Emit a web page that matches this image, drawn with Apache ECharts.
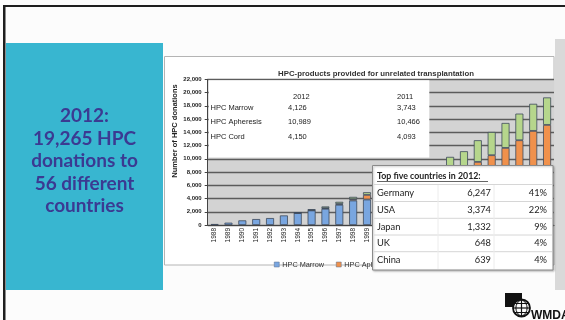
<!DOCTYPE html>
<html>
<head>
<meta charset="utf-8">
<script src="https://cdn.jsdelivr.net/npm/echarts@6/dist/echarts.min.js"></script>
<style>
  html, body { margin: 0; padding: 0; background: #fcfcfc; }
  #chart { width: 565px; height: 320px; }
</style>
</head>
<body>
<div id="chart"></div>
<script>
// Years shown on the category axis
const years = ['1988','1989','1990','1991','1992','1993','1994','1995','1996','1997','1998','1999',
               '2000','2001','2002','2003','2004','2005','2006','2007','2008','2009','2010','2011','2012'];

// HPC products per year, by source
const marrow    = [150, 350, 700, 900, 1050, 1450, 1800, 2200, 2450, 3050, 3700, 3850,
                   3950, 3900, 3850, 3800, 3750, 3800, 3900, 4000, 4100, 4200, 4250, 3743, 4126];
const apheresis = [null, null, null, null, null, null, 40, 60, 100, 150, 200, 700,
                   1200, 1850, 2450, 3050, 3580, 4290, 4540, 5530, 6440, 7440, 8550, 10466, 10989];
const cord      = [null, null, null, null, null, null, 60, 90, 250, 300, 350, 400,
                   600, 800, 1050, 1350, 1700, 2200, 2700, 3270, 3510, 3770, 4020, 4093, 4150];

const seriesNames = ['HPC Marrow', 'HPC Apheresis', 'HPC Cord'];

// Value axis
const yMin = 0, yMax = 22000, yStep = 2000;

// Top five recipient countries, 2012
const countries = ['Germany', 'USA', 'Japan', 'UK', 'China'];
const countryDonations = [6247, 3374, 1332, 648, 639];
const countryShare = [41, 22, 9, 4, 4];

const fmt = v => v.toLocaleString('en-US');
const last = years.length - 1;

const chart = echarts.init(document.getElementById('chart'), null, { renderer: 'canvas' });

const g = [];
// slide frame
g.push({ type: 'rect', z: 0, shape: { x: 3, y: 5, width: 562, height: 2 }, style: { fill: '#1e1e1e' } });
g.push({ type: 'rect', z: 0, shape: { x: 3, y: 5, width: 2.5, height: 315 }, style: { fill: '#1e1e1e' } });
g.push({ type: 'rect', z: 0, shape: { x: 555, y: 39, width: 10, height: 251 }, style: { fill: '#d9d9d9' } });
// headline panel
g.push({ type: 'rect', z: 0, shape: { x: 6, y: 43, width: 157, height: 247 }, style: { fill: '#38b6d0' } });
g.push({ type: 'text', z: 10, style: {
  text: years[last] + ':\n' + fmt(19265) + ' HPC\ndonations to\n56 different\ncountries',
  x: 84.5, y: 161, textAlign: 'center', textVerticalAlign: 'middle',
  font: 'bold 19px Lato', lineHeight: 22.4, fill: '#3b3a92' } });
// chart frame
g.push({ type: 'rect', z: 0, shape: { x: 164.5, y: 56.5, width: 389.5, height: 208.5 },
  style: { fill: '#ffffff', stroke: '#b4b4b4', lineWidth: 1 } });
// axis title
g.push({ type: 'text', z: 10, x: 174.5, y: 131, rotation: Math.PI / 2, style: {
  text: 'Number of HPC donations', x: 0, y: 0, textAlign: 'center', textVerticalAlign: 'middle',
  font: 'bold 7.5px "Liberation Sans"', fill: '#222' } });

// summary panel inside the plot
g.push({ type: 'rect', z: 3, shape: { x: 208.7, y: 80.3, width: 220.6, height: 77.3 }, style: { fill: '#ffffff' } });
const insetFont = '7.5px "Liberation Sans"';
g.push({ type: 'text', z: 11, style: { text: years[last], x: 293, y: 96.7, textVerticalAlign: 'middle', font: insetFont, fill: '#222' } });
g.push({ type: 'text', z: 11, style: { text: years[last - 1], x: 397, y: 96.7, textVerticalAlign: 'middle', font: insetFont, fill: '#222' } });
const rowSeries = [marrow, apheresis, cord];
const rowY = [107.5, 122.3, 136.7];
seriesNames.forEach((n, i) => {
  g.push({ type: 'text', z: 11, style: { text: n, x: 210.5, y: rowY[i], textVerticalAlign: 'middle', font: insetFont, fill: '#222' } });
  g.push({ type: 'text', z: 11, style: { text: fmt(rowSeries[i][last]), x: 288, y: rowY[i], textVerticalAlign: 'middle', font: insetFont, fill: '#222' } });
  g.push({ type: 'text', z: 11, style: { text: fmt(rowSeries[i][last - 1]), x: 397, y: rowY[i], textVerticalAlign: 'middle', font: insetFont, fill: '#222' } });
});

// top five countries table
g.push({ type: 'rect', z: 10, shape: { x: 372.5, y: 165.5, width: 180.5, height: 104.5 },
  style: { fill: '#ffffff', stroke: '#8a8a8a', lineWidth: 1, shadowBlur: 2, shadowColor: 'rgba(0,0,0,0.25)', shadowOffsetX: 1, shadowOffsetY: 1 } });
const tFont = '9.3px Lato';
g.push({ type: 'text', z: 11, style: { text: 'Top five countries in ' + years[last] + ':', x: 377, y: 176,
  textVerticalAlign: 'middle', font: 'bold 8.8px Lato', fill: '#222' } });
g.push({ type: 'line', z: 11, shape: { x1: 377, y1: 181.5, x2: 488, y2: 181.5 }, style: { stroke: '#222', lineWidth: 0.7 } });
const sepY = [184.5, 201.5, 218.3, 235, 251.7];
sepY.forEach(y => g.push({ type: 'line', z: 11, shape: { x1: 374, y1: y, x2: 552, y2: y }, style: { stroke: '#d6d6d6', lineWidth: 1 } }));
g.push({ type: 'line', z: 11, shape: { x1: 438, y1: 185, x2: 438, y2: 269 }, style: { stroke: '#ececec', lineWidth: 1 } });
g.push({ type: 'line', z: 11, shape: { x1: 494, y1: 185, x2: 494, y2: 269 }, style: { stroke: '#ececec', lineWidth: 1 } });
const cRowY = [193.3, 210.3, 226.9, 243.2, 259.6];
countries.forEach((c, i) => {
  g.push({ type: 'text', z: 12, style: { text: c, x: 377, y: cRowY[i], textVerticalAlign: 'middle', font: tFont, fill: '#222' } });
  g.push({ type: 'text', z: 12, style: { text: fmt(countryDonations[i]), x: 491, y: cRowY[i], textAlign: 'right', textVerticalAlign: 'middle', font: tFont, fill: '#222' } });
  g.push({ type: 'text', z: 12, style: { text: countryShare[i] + '%', x: 547, y: cRowY[i], textAlign: 'right', textVerticalAlign: 'middle', font: tFont, fill: '#222' } });
});

// logo mark, bottom right
g.push({ type: 'rect', z: 10, shape: { x: 505, y: 293, width: 17, height: 14 }, style: { fill: '#111' } });
g.push({ type: 'circle', z: 11, shape: { cx: 521.5, cy: 308, r: 8.5 }, style: { fill: '#fcfcfc', stroke: '#111', lineWidth: 1.8 } });
g.push({ type: 'line', z: 12, shape: { x1: 513, y1: 308, x2: 530, y2: 308 }, style: { stroke: '#111', lineWidth: 1.2 } });
g.push({ type: 'line', z: 12, shape: { x1: 514.5, y1: 303.5, x2: 528.5, y2: 303.5 }, style: { stroke: '#111', lineWidth: 1 } });
g.push({ type: 'line', z: 12, shape: { x1: 514.5, y1: 312.5, x2: 528.5, y2: 312.5 }, style: { stroke: '#111', lineWidth: 1 } });
g.push({ type: 'line', z: 12, shape: { x1: 521.5, y1: 299.5, x2: 521.5, y2: 316.5 }, style: { stroke: '#111', lineWidth: 1.2 } });
g.push({ type: 'bezierCurve', z: 12, shape: { x1: 521.5, y1: 299.5, x2: 521.5, y2: 316.5, cpx1: 514, cpy1: 303, cpx2: 514, cpy2: 313 }, style: { stroke: '#111', fill: 'none', lineWidth: 1 } });
g.push({ type: 'bezierCurve', z: 12, shape: { x1: 521.5, y1: 299.5, x2: 521.5, y2: 316.5, cpx1: 529, cpy1: 303, cpx2: 529, cpy2: 313 }, style: { stroke: '#111', fill: 'none', lineWidth: 1 } });
g.push({ type: 'text', z: 12, style: { text: 'WMDA', x: 531, y: 316, textVerticalAlign: 'middle', font: 'bold 12px "Liberation Sans"', fill: '#111' } });

const barStyle = (color) => ({ color: color, borderColor: '#3e4a5c', borderWidth: 0.8 });
const seriesColors = ['#79a6e0', '#f0914c', '#b6d68c'];

chart.setOption({
  animation: false,
  backgroundColor: '#fcfcfc',
  title: {
    text: 'HPC-products provided for unrelated transplantation',
    left: 371, top: 65, textAlign: 'center', z: 10,
    textStyle: { fontFamily: 'Liberation Sans', fontWeight: 'bold', fontSize: 7.8, color: '#333' }
  },
  legend: {
    data: seriesNames, left: 269, top: 256, z: 5,
    itemWidth: 5, itemHeight: 5, itemGap: 12, icon: 'rect',
    itemStyle: { borderWidth: 0.5, borderColor: '#5a6f8c' },
    textStyle: { fontFamily: 'Liberation Sans', fontSize: 7.3, color: '#333', padding: [0, 0, 0, -2] }
  },
  grid: {
    left: 207.7, right: 11, top: 79.3, bottom: 95,
    show: true, backgroundColor: '#d3d3d3', borderWidth: 0, z: 1
  },
  xAxis: {
    type: 'category', data: years, z: 2,
    axisLine: { lineStyle: { color: '#444', width: 1 } },
    axisTick: { show: false },
    axisLabel: { interval: 0, rotate: 90, fontFamily: 'Liberation Sans', fontSize: 6.5, color: '#222', margin: 3 }
  },
  yAxis: {
    type: 'value', min: yMin, max: yMax, interval: yStep, z: 2,
    axisLine: { show: true, lineStyle: { color: '#444', width: 1 } },
    axisTick: { show: true, length: 3, lineStyle: { color: '#444' } },
    axisLabel: { formatter: v => fmt(v), fontFamily: 'Liberation Sans', fontWeight: 'bold', fontSize: 6, color: '#222', margin: 6 },
    splitLine: { lineStyle: { color: '#5c5c5c', width: 1.3 } }
  },
  series: [
    { name: seriesNames[0], type: 'bar', stack: 'total', data: marrow, barWidth: 8, z: 4, itemStyle: barStyle(seriesColors[0]) },
    { name: seriesNames[1], type: 'bar', stack: 'total', data: apheresis, barWidth: 8, z: 4, itemStyle: barStyle(seriesColors[1]) },
    { name: seriesNames[2], type: 'bar', stack: 'total', data: cord, barWidth: 8, z: 4, itemStyle: barStyle(seriesColors[2]) }
  ],
  graphic: { elements: g }
});
</script>
</body>
</html>
